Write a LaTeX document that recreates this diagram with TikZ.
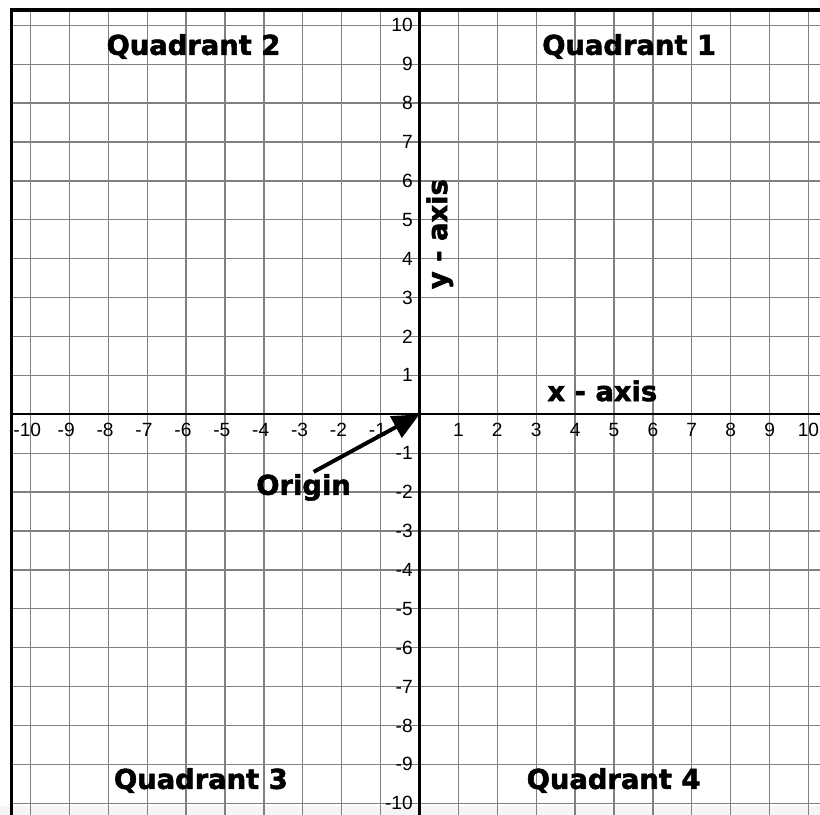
\documentclass[tikz,border=0pt]{standalone}
\usepackage{fontspec}
\setmainfont{Liberation Sans}
\newfontfamily\qfont{DejaVu Sans}[BoldFeatures={FakeBold=2}]
\usetikzlibrary{arrows.meta}
\begin{document}
\begin{tikzpicture}[x=1cm,y=1cm,
  gridline/.style={draw=black!50, line width=1pt},
  axisline/.style={draw=black, line width=1.5pt},
  frameline/.style={draw=black, line width=2.2pt, line join=miter},
  ticklbl/.style={font=\fontsize{14pt}{16pt}\selectfont, inner sep=0pt},
  biglbl/.style={font=\qfont\bfseries\fontsize{20pt}{24pt}\selectfont, inner sep=0pt},
  pointer/.style={line width=2.9pt, -{Triangle[length=0.69cm,width=0.61cm]}}]
\useasboundingbox (-10.784,-10.301) rectangle (10.296,10.650);
\fill[black!4] (-10.784,-10.301) rectangle (10.296,-10.07);
\foreach \i in {-10,...,10} {
  \draw[gridline] (\i,-10.301) -- (\i,10.39);
  \draw[gridline] (-10.5,\i) -- (10.296,\i);
}
\draw[axisline] (-10.5,0) -- (10.296,0);
\draw[axisline] (0,-10.301) -- (0,10.39);
\draw[frameline] (-10.5,-10.301) -- (-10.5,10.393) -- (10.296,10.393);
\foreach \i in {1,...,10} {
  \node[ticklbl] (xp\i) at (\i,-0.404) {\i};
  \node[ticklbl] (xn\i) at (-\i,-0.404) {\llap{-}\i};
  \node[ticklbl, anchor=east] (yp\i) at (-0.167,\i) {\i};
  \node[ticklbl, anchor=east] (yn\i) at (-0.167,-\i) {-\i};
}
\node[biglbl, anchor=base] (q2) at (-5.81,9.24) {Quadrant 2};
\node[biglbl, anchor=base] (q1) at (5.39,9.24) {Quadrant 1};
\node[biglbl, anchor=base] (q3) at (-5.62,-9.63) {Quadrant 3};
\node[biglbl, anchor=base] (q4) at (4.99,-9.63) {Quadrant 4};
\node[biglbl, anchor=base] (xlab) at (4.70,0.34) {x - axis};
\node[biglbl, anchor=base, rotate=90] (ylab) at (0.71,4.63) {y - axis};
\node[biglbl, anchor=base] (orig) at (-2.98,-2.07) {Origin};
\coordinate (O) at (0,0);
\coordinate (tail) at (-2.72,-1.48);
\draw[pointer] (tail) -- (O);
\end{tikzpicture}
\end{document}
